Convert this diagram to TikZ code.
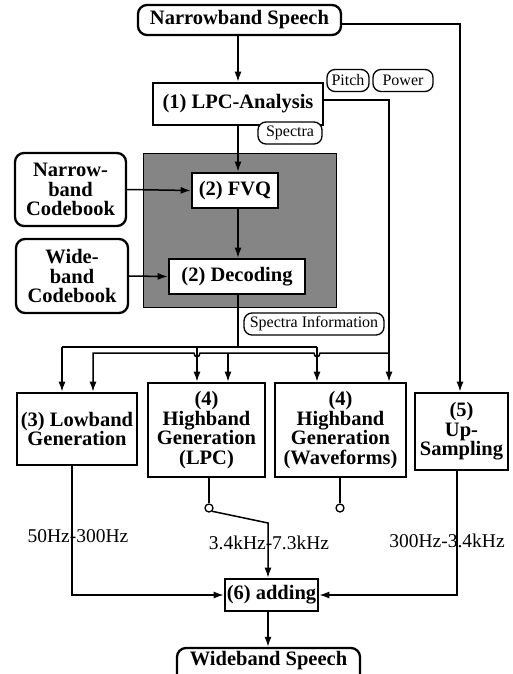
\documentclass[tikz,border=0pt]{standalone}
\usepackage{fontspec}
\setmainfont{Liberation Serif}
\usetikzlibrary{arrows.meta}
\begin{document}
\begin{tikzpicture}[x=1pt,y=-1pt,
  blk/.style={draw, line width=2.6pt, fill=white, inner sep=0pt, align=center,
    font=\bfseries\fontsize{20.5}{19.5}\selectfont},
  rbox/.style={blk, rounded corners=9pt, line width=2.3pt},
  tag/.style={draw, line width=1.3pt, rounded corners=8pt, inner sep=0pt, fill=white,
    font=\fontsize{16}{16}\selectfont},
  lab/.style={font=\fontsize{19.5}{19.5}\selectfont, inner sep=0pt},
  con/.style={line width=1.5pt},
  arr/.style={con, -{Latex[length=10pt,width=7pt]}},
  circ/.style={draw, circle, line width=1.3pt, minimum size=8pt, inner sep=0pt, fill=white}]
\path[use as bounding box, clip] (0,0) rectangle (513,674);
\fill[white] (0,0) rectangle (513,674);
% shaded region
\fill[black!48, draw=black, line width=0.8pt] (143,153) rectangle (336,307);
% nodes
\node[rbox, minimum width=203pt, minimum height=30pt] (ns) at (239.5,20) {Narrowband Speech};
\node[blk, minimum width=170pt, minimum height=42pt] (lpc) at (238,104) {(1) LPC-Analysis};
\node[blk, minimum width=86pt, minimum height=35pt] (fvq) at (235,190.5) {(2) FVQ};
\node[blk, minimum width=136pt, minimum height=35pt] (dec) at (237,276.5) {(2) Decoding};
\node[rbox, minimum width=111pt, minimum height=73pt] (ncb) at (70.5,189.5) {Narrow-\\band\\Codebook};
\node[rbox, minimum width=112pt, minimum height=74pt] (wcb) at (72,276) {Wide-\\band\\Codebook};
\node[blk, minimum width=120pt, minimum height=72pt] (low) at (77,429) {(3) Lowband\\Generation};
\node[blk, minimum width=117pt, minimum height=94pt] (hlpc) at (206.5,430) {(4)\\Highband\\Generation\\(LPC)};
\node[blk, minimum width=131pt, minimum height=94pt] (hwav) at (340.5,430) {(4)\\Highband\\Generation\\(Waveforms)};
\node[blk, minimum width=93pt, minimum height=77pt] (up) at (461.5,431.5) {(5)\\Up-\\Sampling};
\node[blk, minimum width=93pt, minimum height=32pt] (add) at (271.5,595) {(6) adding};
\node[rbox, minimum width=183pt, minimum height=44pt] (wb) at (268.5,670) {};
\node[blk, draw=none, fill=none] (wbt) at (268.5,661) {Wideband Speech};
% tags
\node[tag, minimum width=42pt, minimum height=22pt] (pitch) at (348,80.5) {Pitch};
\node[tag, minimum width=60pt, minimum height=22pt] (power) at (403,80.5) {Power};
\node[tag, minimum width=64pt, minimum height=22pt] (spec) at (290,133) {Spectra};
\node[tag, minimum width=140pt, minimum height=22pt] (sinfo) at (314,324) {Spectra Information};
% coordinates
\coordinate (c0) at (238,0);
\coordinate (pp) at (389,100);
\coordinate (b1) at (238,347);
\coordinate (b1L) at (62,347);
\coordinate (b1M) at (197,347);
\coordinate (b1R) at (317,347);
\coordinate (b2R) at (389,353);
\coordinate (b2M) at (228,353);
\coordinate (b2L) at (93,353);
\coordinate (ns2) at (342,24);
\coordinate (upc) at (460,24);
% connectors top
\draw[arr] (ns.south -| c0) -- (lpc.north -| c0);
\draw[arr] (ns2) -- (upc) -- (upc |- up.north);
\draw[arr] (lpc.south -| c0) -- (fvq.north -| c0);
\draw[arr] (fvq.south -| c0) -- (dec.north -| c0);
\draw[arr] (ncb.east) -- (fvq.west);
\draw[arr] (wcb.east) -- (dec.west);
\draw[arr] (lpc.east |- pp) -- (pp) -- (pp |- hwav.north);
% bus 1 (spectra information)
\draw[con] (dec.south -| b1) -- (b1);
\draw[con] (b1L) -- (b1R);
\draw[arr] (b1L) -- (b1L |- low.north);
\draw[arr] (b1M) -- (b1M |- hlpc.north);
\draw[arr] (b1R) -- (b1R |- hwav.north);
% bus 2 (pitch, power)
\draw[arr] (b2R) -- (320,353) .. controls (320,358) and (314,358) .. (314,353)
  -- (200,353) .. controls (200,358) and (194,358) .. (194,353)
  -- (b2L) -- (b2L |- low.north);
\draw[arr] (b2M) -- (b2M |- hlpc.north);
% outputs
\coordinate (c1) at (72,595);
\coordinate (c3) at (457,595);
\coordinate (sw) at (268,523);
\node[circ] (s1) at (209,508) {};
\node[circ] (s2) at (340,508) {};
\draw[con] (s1 |- hlpc.south) -- (s1.north);
\draw[con] (s2 |- hwav.south) -- (s2.north);
\draw[arr] (s1.south east) -- (sw) -- (sw |- add.north);
\draw[arr] (low.south -| c1) -- (c1) -- (add.west);
\draw[arr] (up.south -| c3) -- (c3) -- (add.east);
\draw[arr] (add.south -| sw) -- (wb.north -| sw);
% frequency labels
\node[lab] (f1) at (78,536) {50Hz-300Hz};
\node[lab] (f2) at (269,543) {3.4kHz-7.3kHz};
\node[lab] (f3) at (447,541) {300Hz-3.4kHz};
\end{tikzpicture}
\end{document}
